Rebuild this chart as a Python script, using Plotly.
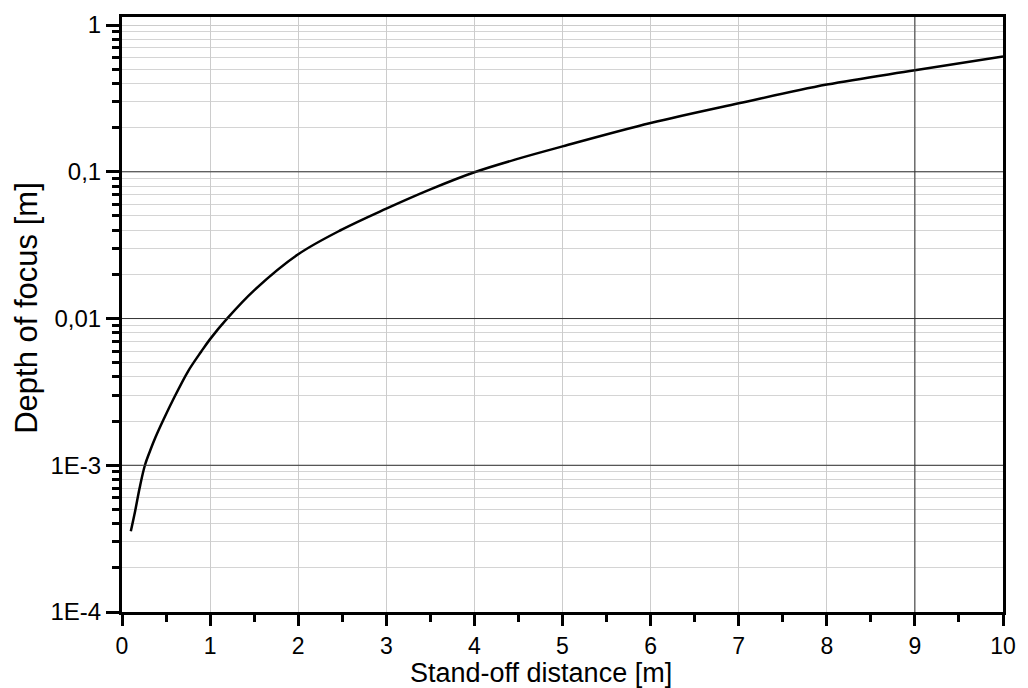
import plotly.graph_objects as go

# Data
distance_m = [0.1, 0.15, 0.2, 0.26, 0.32, 0.38, 0.47, 0.57, 0.75, 0.9, 1.0, 1.2, 1.5,
              2.0, 2.5, 3.0, 3.5, 4.0, 4.5, 5.0, 6.0, 7.0, 8.0, 9.0, 10.0]
depth_of_focus_m = [3.55e-4, 4.9e-4, 7.0e-4, 1.0e-3, 1.26e-3, 1.55e-3, 2.04e-3,
                    2.72e-3, 4.37e-3, 5.96e-3, 7.24e-3, 1.01e-2, 1.556e-2, 2.74e-2,
                    4.05e-2, 5.61e-2, 7.59e-2, 0.0993, 0.123, 0.149, 0.215, 0.293,
                    0.393, 0.492, 0.612]

y_tick_vals = [1e-4, 1e-3, 1e-2, 1e-1, 1]
y_tick_text = ["1E-4", "1E-3", "0,01", "0,1", "1"]
x_tick_vals = [0, 1, 2, 3, 4, 5, 6, 7, 8, 9, 10]
dark_y_lines = [1e-3, 1e-2, 1e-1]
dark_x_lines = [9]

FONT = "Liberation Sans, Arial, sans-serif"

fig = go.Figure()

for yv in dark_y_lines:
    fig.add_shape(type="line", xref="paper", yref="y", x0=0, x1=1, y0=yv, y1=yv,
                  line=dict(color="#333333", width=1), layer="above")
for xv in dark_x_lines:
    fig.add_shape(type="line", xref="x", yref="paper", x0=xv, x1=xv, y0=0, y1=1,
                  line=dict(color="#333333", width=1), layer="above")

fig.add_trace(go.Scatter(x=distance_m, y=depth_of_focus_m, mode="lines",
                         line=dict(color="black", width=2.5, shape="spline",
                                   smoothing=1.0),
                         showlegend=False))

fig.update_xaxes(range=[0, 10], tickvals=x_tick_vals, showgrid=True,
                 gridcolor="#cccccc", gridwidth=1,
                 showline=True, linecolor="black", linewidth=3, mirror=True,
                 ticks="outside", ticklen=11, tickwidth=2.5, tickcolor="black",
                 minor=dict(dtick=0.5, ticks="outside", ticklen=7, tickwidth=2.5,
                            tickcolor="black", showgrid=False),
                 zeroline=False,
                 tickfont=dict(family=FONT, size=23, color="black"))

fig.update_yaxes(type="log", range=[-4, 0.055], tickvals=y_tick_vals,
                 ticktext=y_tick_text, showgrid=True, gridcolor="#cccccc",
                 showline=True, linecolor="black", linewidth=3, mirror=True,
                 ticks="outside", ticklen=13, tickwidth=2.5, tickcolor="black",
                 minor=dict(dtick="D1", ticks="outside", ticklen=7, tickwidth=2.5,
                            tickcolor="black", showgrid=True, gridcolor="#d4d4d4",
                            gridwidth=1),
                 zeroline=False,
                 tickfont=dict(family=FONT, size=24, color="black"))

fig.add_annotation(text="Stand-off distance [m]", xref="paper", yref="paper",
                   x=0.4756, y=-0.131, xanchor="center", yanchor="bottom",
                   showarrow=False, font=dict(family=FONT, size=27, color="black"))
fig.add_annotation(text="Depth of focus [m]", xref="paper", yref="paper",
                   x=-0.108, y=0.511, xanchor="center", yanchor="middle",
                   textangle=-90, showarrow=False,
                   font=dict(family=FONT, size=31, color="black"))

fig.update_layout(width=1028, height=688,
                  margin=dict(l=122, r=25, t=13, b=76),
                  paper_bgcolor="white", plot_bgcolor="white")

fig.write_html("out.html")
